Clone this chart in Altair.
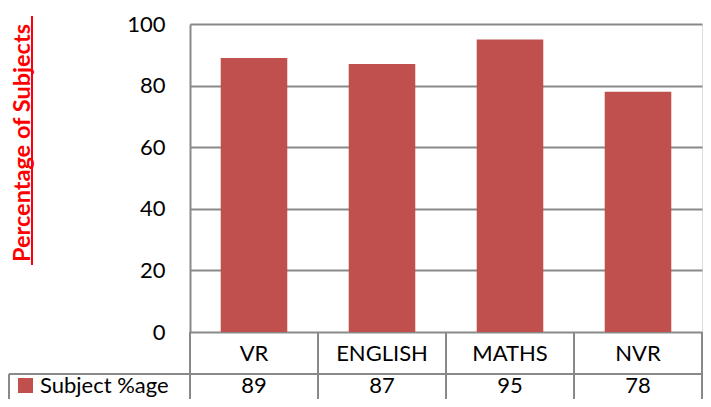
import altair as alt
import pandas as pd

subjects = ["VR", "ENGLISH", "MATHS", "NVR"]
percentages = [89, 87, 95, 78]
series_name = "Subject %age"
y_ticks = [0, 20, 40, 60, 80, 100]
y_title = "Percentage of Subjects"

df = pd.DataFrame({"subject": subjects, "pct": percentages})
one = pd.DataFrame({"k": [0]})
legend_df = pd.DataFrame({"name": [series_name]})
title_df = pd.DataFrame({"t": [y_title]})

FONT = "Lato"
FS = 22
BAR = "#C0504D"
GRID = "#898989"
RED = "#FF0000"
W, H = 512, 308
BOTTOM = 67
ROW2_BASE = 369

x_enc = alt.X("subject:N", sort=subjects,
              scale=alt.Scale(paddingInner=0, paddingOuter=0), axis=None)

bars = alt.Chart(df).mark_bar(color=BAR, width=alt.RelativeBandSize(0.52)).encode(
    x=x_enc,
    y=alt.Y("pct:Q", scale=alt.Scale(domain=[0, 100], nice=False),
            axis=alt.Axis(values=y_ticks, grid=True, gridColor=GRID, gridWidth=2,
                          domainColor=GRID, domainWidth=2, ticks=False,
                          labelPadding=25, labelFontSize=FS, labelFont=FONT,
                          labelColor="black", title=None)),
)

cat_text = alt.Chart(df).mark_text(font=FONT, fontSize=FS, color="black",
                                   baseline="middle").encode(
    x=x_enc, y=alt.value(330), text="subject:N")

val_text = alt.Chart(df).mark_text(font=FONT, fontSize=FS, color="black",
                                   baseline="alphabetic").encode(
    x=x_enc, y=alt.value(ROW2_BASE), text="pct:Q")

col_lines = alt.Chart(df).mark_rule(color=GRID, strokeWidth=2).encode(
    x=alt.X("subject:N", sort=subjects, bandPosition=0,
            scale=alt.Scale(paddingInner=0, paddingOuter=0), axis=None),
    y=alt.value(H), y2=alt.value(H + BOTTOM))

right_line = alt.Chart(one).mark_rule(color=GRID, strokeWidth=2).encode(
    x=alt.value(W), y=alt.value(H), y2=alt.value(H + BOTTOM))

row_line = alt.Chart(one).mark_rule(color=GRID, strokeWidth=2).encode(
    x=alt.value(-181), x2=alt.value(W), y=alt.value(350))

left_line = alt.Chart(one).mark_rule(color=GRID, strokeWidth=2).encode(
    x=alt.value(-181), y=alt.value(350), y2=alt.value(H + BOTTOM))

legend_sq = alt.Chart(one).mark_rect(color=BAR).encode(
    x=alt.value(-172), x2=alt.value(-157),
    y=alt.value(ROW2_BASE - 15), y2=alt.value(ROW2_BASE))

legend_txt = alt.Chart(legend_df).mark_text(font=FONT, fontSize=FS, color="black",
                                            align="left", baseline="alphabetic").encode(
    x=alt.value(-150), y=alt.value(ROW2_BASE), text="name:N")

title_txt = alt.Chart(title_df).mark_text(font=FONT, fontSize=23.5, fontWeight="bold",
                                          color=RED, angle=270, align="center",
                                          baseline="alphabetic").encode(
    x=alt.value(-160), y=alt.value(119), text="t:N")

underline = alt.Chart(one).mark_rule(color=RED, strokeWidth=2).encode(
    x=alt.value(-158), y=alt.value(-8), y2=alt.value(241))

chart = alt.layer(
    bars, col_lines, right_line, row_line, left_line,
    cat_text, val_text, legend_sq, legend_txt, title_txt, underline
).properties(
    width=W, height=H,
    autosize=alt.AutoSizeParams(type="none"),
    padding={"left": 182, "top": 16, "right": 1, "bottom": BOTTOM},
).configure_view(stroke=None).configure(background="white")

chart.save("out.html", embed_options={"renderer": "svg", "actions": False})
